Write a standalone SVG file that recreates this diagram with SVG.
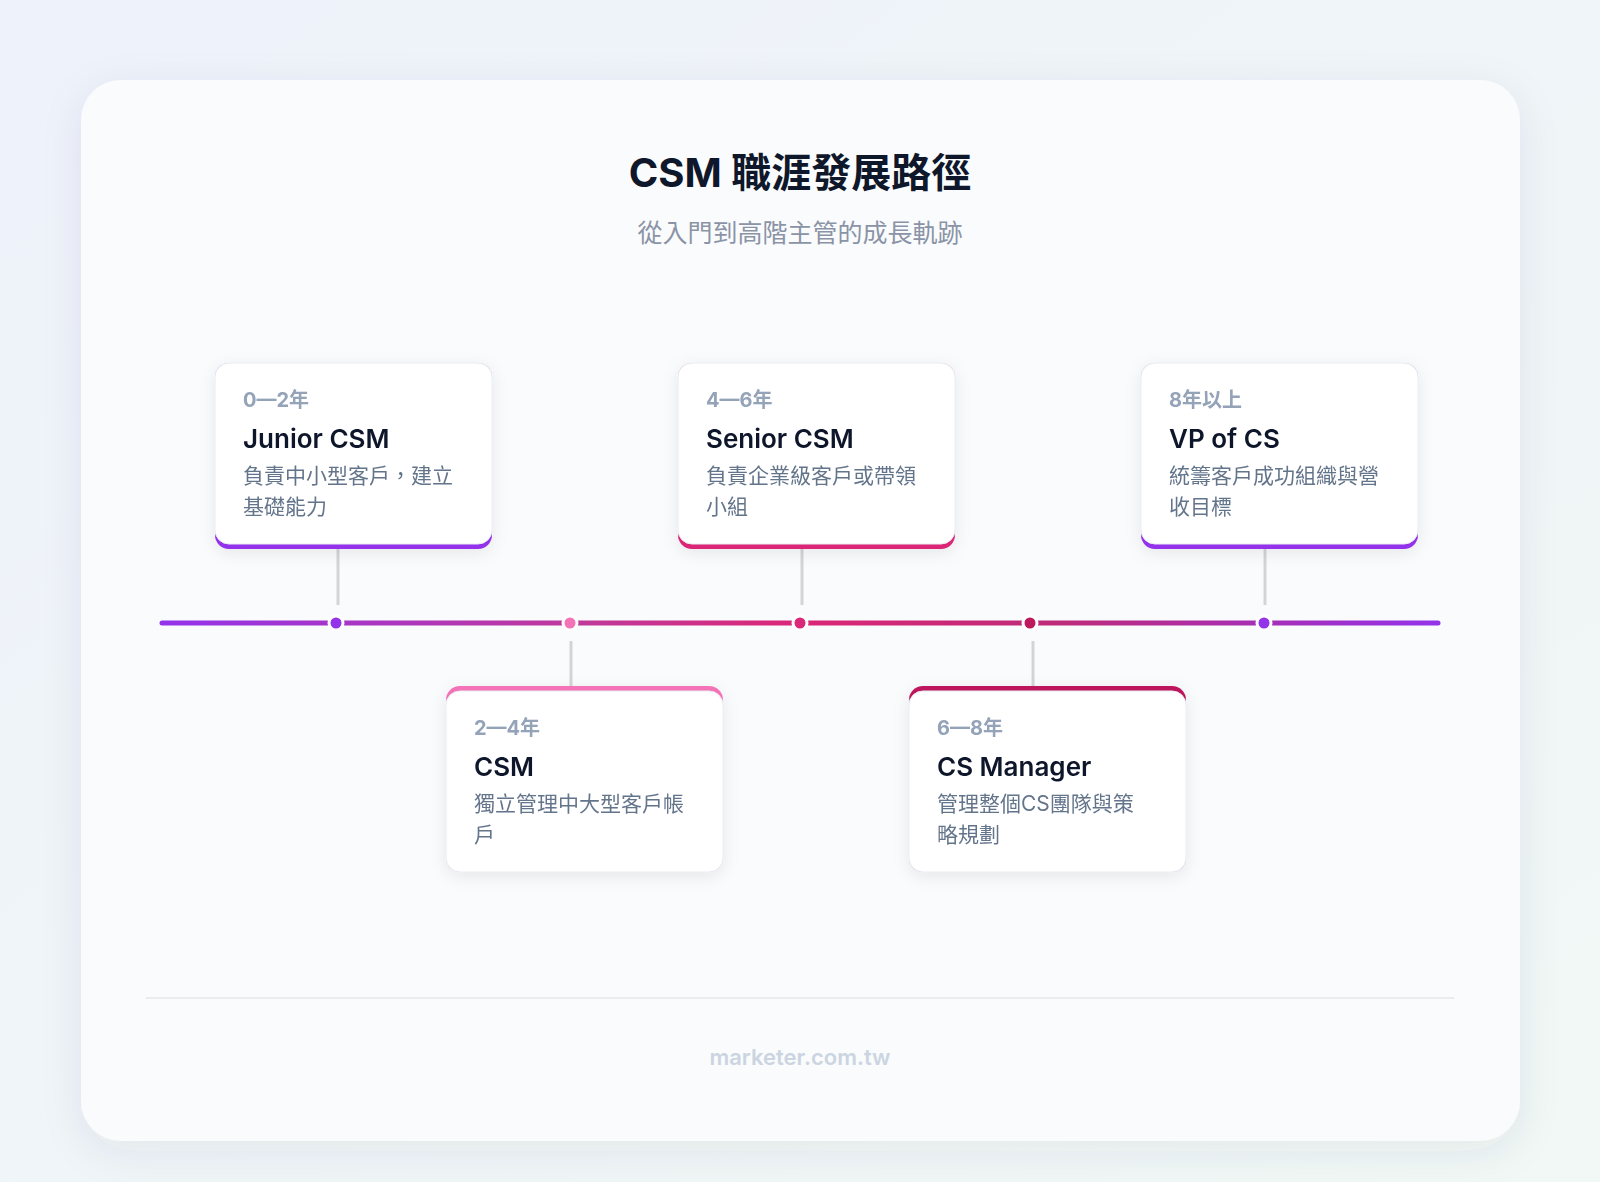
<svg xmlns="http://www.w3.org/2000/svg" width="1600" height="1182" viewBox="0 0 1600 1182">
<defs>
<linearGradient id="bg" x1="0" y1="0" x2="1" y2="1"><stop offset="0" stop-color="#eef2fb"/><stop offset="1" stop-color="#f1f8f5"/></linearGradient>
<linearGradient id="tl" x1="162" y1="0" x2="1438" y2="0" gradientUnits="userSpaceOnUse"><stop offset="0" stop-color="#9333ea"/><stop offset="0.33" stop-color="#c0399a"/><stop offset="0.5" stop-color="#db2777"/><stop offset="0.7" stop-color="#be2a78"/><stop offset="1" stop-color="#9333ea"/></linearGradient>
<filter id="sh" x="-10%" y="-10%" width="120%" height="130%"><feDropShadow dx="0" dy="4" stdDeviation="8" flood-color="#0f172a" flood-opacity="0.08"/></filter>
<filter id="sh2" x="-10%" y="-10%" width="120%" height="130%"><feDropShadow dx="0" dy="10" stdDeviation="20" flood-color="#334155" flood-opacity="0.08"/></filter>
<style>
text{font-family:Inter,"Noto Sans CJK TC",sans-serif}
.per{font-size:20px;font-weight:700;fill:#94a3b8}
.tt{font-size:26px;font-weight:600;fill:#0f172a}
.ds{font-size:21px;fill:#64748b}
.card{fill:#fff;stroke:#e8ecf2;stroke-width:1}
.stem{stroke:#d4d4d8;stroke-width:3}
</style>
</defs>
<rect width="1600" height="1182" fill="url(#bg)"/>
<rect x="81" y="80" width="1439" height="1061" rx="40" fill="#fafbfd" filter="url(#sh2)"/>
<text x="800" y="187" text-anchor="middle" font-size="40" font-weight="700" fill="#0f172a">CSM 職涯發展路徑</text>
<text x="800" y="242" text-anchor="middle" font-size="25" fill="#8a94a6">從入門到高階主管的成長軌跡</text>
<g id="connectors">
<line class="stem" x1="338" y1="548" x2="338" y2="605"/>
<line class="stem" x1="802" y1="548" x2="802" y2="605"/>
<line class="stem" x1="1265" y1="548" x2="1265" y2="605"/>
<line class="stem" x1="571" y1="641" x2="571" y2="687"/>
<line class="stem" x1="1033" y1="641" x2="1033" y2="687"/>
<line x1="162" y1="623" x2="1438" y2="623" stroke="url(#tl)" stroke-width="5" stroke-linecap="round"/>
<circle cx="336" cy="623" r="7" fill="#9333ea" stroke="#fff" stroke-width="3"/>
<circle cx="570" cy="623" r="7" fill="#f472b6" stroke="#fff" stroke-width="3"/>
<circle cx="800" cy="623" r="7" fill="#db2777" stroke="#fff" stroke-width="3"/>
<circle cx="1030" cy="623" r="7" fill="#be185d" stroke="#fff" stroke-width="3"/>
<circle cx="1264" cy="623" r="7" fill="#9333ea" stroke="#fff" stroke-width="3"/>
</g>
<g id="n1" filter="url(#sh)">
<rect x="215" y="363" width="277" height="186" rx="14" fill="#9333ea"/>
<rect class="card" x="215" y="363" width="277" height="181" rx="14"/>
<text class="per" x="243" y="407">0—2年</text>
<text class="tt" x="243" y="448">Junior CSM</text>
<text class="ds" x="243" y="483">負責中小型客戶，建立</text>
<text class="ds" x="243" y="514">基礎能力</text>
</g>
<g id="n3" filter="url(#sh)">
<rect x="678" y="363" width="277" height="186" rx="14" fill="#db2777"/>
<rect class="card" x="678" y="363" width="277" height="181" rx="14"/>
<text class="per" x="706" y="407">4—6年</text>
<text class="tt" x="706" y="448">Senior CSM</text>
<text class="ds" x="706" y="483">負責企業級客戶或帶領</text>
<text class="ds" x="706" y="514">小組</text>
</g>
<g id="n5" filter="url(#sh)">
<rect x="1141" y="363" width="277" height="186" rx="14" fill="#9333ea"/>
<rect class="card" x="1141" y="363" width="277" height="181" rx="14"/>
<text class="per" x="1169" y="407">8年以上</text>
<text class="tt" x="1169" y="448">VP of CS</text>
<text class="ds" x="1169" y="483">統籌客戶成功組織與營</text>
<text class="ds" x="1169" y="514">收目標</text>
</g>
<g id="n2" filter="url(#sh)">
<rect x="446" y="686" width="277" height="186" rx="14" fill="#f472b6"/>
<rect class="card" x="446" y="691" width="277" height="181" rx="14"/>
<text class="per" x="474" y="735">2—4年</text>
<text class="tt" x="474" y="776">CSM</text>
<text class="ds" x="474" y="811">獨立管理中大型客戶帳</text>
<text class="ds" x="474" y="842">戶</text>
</g>
<g id="n4" filter="url(#sh)">
<rect x="909" y="686" width="277" height="186" rx="14" fill="#be185d"/>
<rect class="card" x="909" y="691" width="277" height="181" rx="14"/>
<text class="per" x="937" y="735">6—8年</text>
<text class="tt" x="937" y="776">CS Manager</text>
<text class="ds" x="937" y="811">管理整個CS團隊與策</text>
<text class="ds" x="937" y="842">略規劃</text>
</g>
<line x1="146" y1="998" x2="1454" y2="998" stroke="#e5e7eb" stroke-width="1.5"/>
<text x="800" y="1065" text-anchor="middle" font-size="22" font-weight="600" fill="#cbd5e1">marketer.com.tw</text>
</svg>
